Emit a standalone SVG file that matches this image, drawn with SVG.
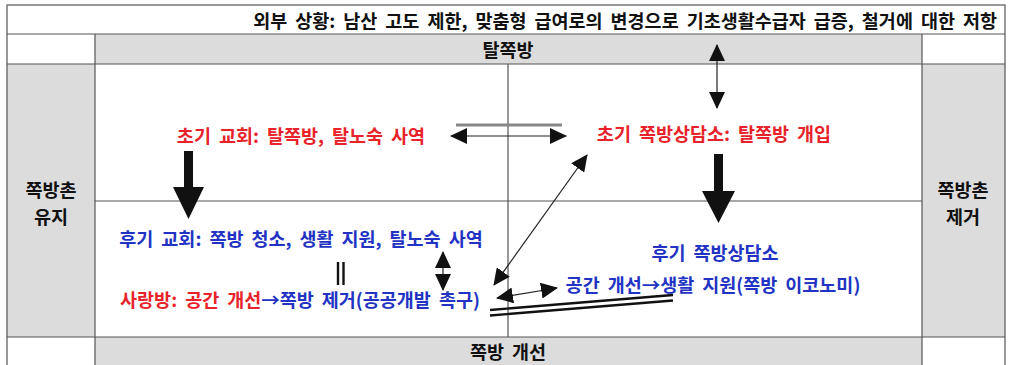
<svg xmlns="http://www.w3.org/2000/svg" width="1010" height="365" viewBox="0 0 1010 365">
<style>
text{font-family:"Noto Sans CJK KR","Noto Sans",sans-serif;font-weight:bold;font-size:18.5px;word-spacing:3.8px}
.k{fill:#111}
.r{fill:#e8222a}
.b{fill:#2233c4}
.m{text-anchor:middle}
.grid{stroke:#555;stroke-width:1.2;fill:none}
.gray{fill:#dcdcdc}
.thin{stroke:#222;stroke-width:1.2;fill:none}
.dbl{stroke:#111;stroke-width:2.4;fill:none}
</style>
<defs>
<marker id="ah" viewBox="0 0 17 16" refX="16" refY="8" markerWidth="17" markerHeight="16" markerUnits="userSpaceOnUse" orient="auto-start-reverse">
<path d="M0,0 L17,8 L0,16 z" fill="#111"/>
</marker>
</defs>
<rect x="0" y="0" width="1010" height="365" fill="#fff"/>
<g id="table">
<rect class="gray" x="95" y="34" width="827" height="30"/>
<rect class="gray" x="7" y="64" width="88" height="273"/>
<rect class="gray" x="922" y="64" width="83" height="273"/>
<rect class="gray" x="95" y="337" width="827" height="30"/>
<rect class="grid" x="7" y="5" width="998" height="370"/>
<line class="grid" x1="7" y1="34" x2="1005" y2="34"/>
<line class="grid" x1="7" y1="64" x2="1005" y2="64"/>
<line class="grid" x1="7" y1="337" x2="1005" y2="337"/>
<line class="grid" x1="95" y1="34" x2="95" y2="365"/>
<line class="grid" x1="922" y1="34" x2="922" y2="365"/>
<line class="grid" x1="95" y1="201" x2="922" y2="201"/>
<line class="grid" x1="508" y1="64" x2="508" y2="337"/>
</g>
<g id="header">
<text class="k" x="997" y="28" text-anchor="end">외부 상황: 남산 고도 제한, 맞춤형 급여로의 변경으로 기초생활수급자 급증, 철거에 대한 저항</text>
</g>
<g id="tal-jjokbang"><text class="k m" x="508" y="57">탈쪽방</text></g>
<g id="jjokbang-gaeseon"><text class="k m" x="508" y="359">쪽방 개선</text></g>
<g id="yuji"><text class="k m" x="51" y="197">쪽방촌</text><text class="k m" x="51" y="224">유지</text></g>
<g id="jegeo"><text class="k m" x="963" y="197">쪽방촌</text><text class="k m" x="963" y="224">제거</text></g>
<g id="early-church"><text class="r m" x="301" y="143">초기 교회: 탈쪽방, 탈노숙 사역</text></g>
<g id="early-center"><text class="r m" x="714" y="141">초기 쪽방상담소: 탈쪽방 개입</text></g>
<g id="late-church"><text class="b m" x="301" y="246">후기 교회: 쪽방 청소, 생활 지원, 탈노숙 사역</text></g>
<g id="sarangbang"><text class="m" x="300" y="307"><tspan class="r">사랑방: 공간 개선</tspan><tspan class="b">→쪽방 제거(공공개발 촉구)</tspan></text></g>
<g id="late-center"><text class="b m" x="715" y="260">후기 쪽방상담소</text><text class="b m" x="713" y="292">공간 개선→생활 지원(쪽방 이코노미)</text></g>
<g id="connectors">
<line x1="456" y1="125" x2="562" y2="125" stroke="#888" stroke-width="3"/>
<line class="thin" x1="451" y1="136" x2="566" y2="136" marker-start="url(#ah)" marker-end="url(#ah)"/>
<line class="thin" x1="717" y1="45" x2="717" y2="108" marker-start="url(#ah)" marker-end="url(#ah)"/>
<polygon points="184,151 193,151 193,187 204,187 188.5,219 173,187 184,187" fill="#111"/>
<polygon points="714,154 723,154 723,191 735,191 718.5,223 702,191 714,191" fill="#111"/>
<line class="dbl" x1="338" y1="262" x2="338" y2="285" stroke-width="2"/>
<line class="dbl" x1="343.5" y1="262" x2="343.5" y2="285" stroke-width="2"/>
<line class="thin" x1="443" y1="252" x2="443" y2="290" marker-start="url(#ah)" marker-end="url(#ah)"/>
<line class="thin" x1="494" y1="285" x2="587" y2="155" marker-start="url(#ah)" marker-end="url(#ah)"/>
<line class="thin" x1="497" y1="298" x2="557" y2="288" marker-start="url(#ah)" marker-end="url(#ah)"/>
<line class="dbl" x1="490" y1="310" x2="673" y2="295"/>
<line class="dbl" x1="490" y1="315.5" x2="673" y2="300.5"/>
</g>
</svg>
